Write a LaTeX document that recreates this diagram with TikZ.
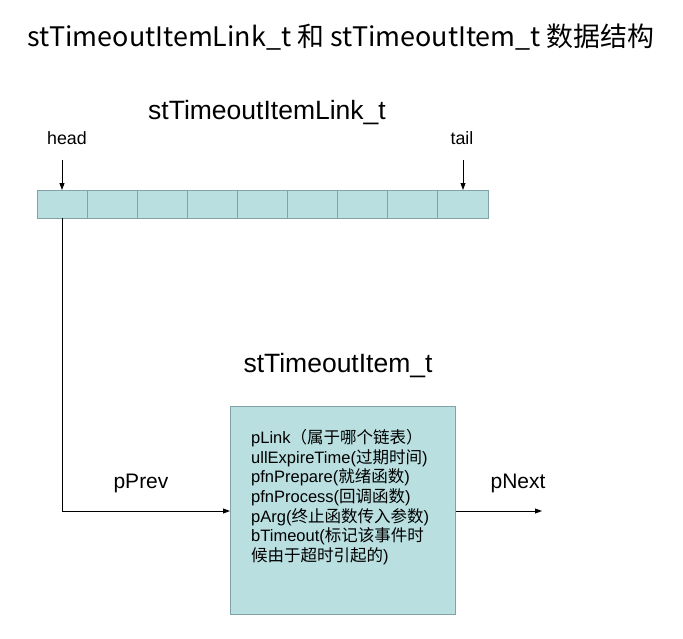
\documentclass[tikz,border=0pt]{standalone}
\usepackage{fontspec}
\setmainfont{Liberation Sans}
\newfontfamily\cjk{Noto Sans CJK SC}
\usetikzlibrary{arrows.meta}
\definecolor{cellfill}{HTML}{B9DFE0}
\definecolor{celledge}{HTML}{7FA3A6}
\tikzset{
  cell/.style={draw=celledge, fill=cellfill, line width=0.8pt, minimum width=50.1pt, minimum height=28pt, inner sep=0pt, outer sep=0pt},
  conn/.style={line width=0.9pt, -{Triangle[length=7pt,width=5pt]}},
  lbl/.style={inner sep=0pt, font=\fontsize{17.8}{20}\selectfont},
  plbl/.style={inner sep=0pt, font=\fontsize{21}{24}\selectfont},
  ttl/.style={inner sep=0pt, font=\fontsize{26.5}{30}\selectfont}
}
\begin{document}
\begin{tikzpicture}[x=1pt,y=-1pt]
\useasboundingbox (0,0) rectangle (683,638);
\node[inner sep=0pt, font=\cjk\fontsize{26.9}{30}\selectfont] (title) at (341,37) {stTimeoutItemLink\_t 和 stTimeoutItem\_t 数据结构};
\node[ttl] (linkttl) at (267,113) {stTimeoutItemLink\_t};
\foreach \i in {0,...,8} {
  \node[cell, anchor=north west] (c\i) at (37+50.1*\i,190) {};
}
\node[lbl] (head) at (67,138) {head};
\node[lbl] (tail) at (462,138) {tail};
\coordinate (headtop) at (62,160);
\coordinate (tailtop) at (463,160);
\draw[conn] (headtop) -- (headtop |- c0.north);
\draw[conn] (tailtop) -- (tailtop |- c8.north);
\node[ttl] (itemttl) at (338,366) {stTimeoutItem\_t};
\node[draw=celledge, fill=cellfill, line width=0.8pt, minimum width=225pt, minimum height=208pt, inner sep=0pt, anchor=north west] (item) at (230,406) {};
\node[anchor=north west, inner sep=0pt, align=left, font=\fontsize{16.5}{19.7}\selectfont] (itemtext) at (251,429) {pLink{\cjk （属于哪个链表）}\\
ullExpireTime({\cjk 过期时间})\\
pfnPrepare({\cjk 就绪函数})\\
pfnProcess({\cjk 回调函数})\\
pArg({\cjk 终止函数传入参数})\\
bTimeout({\cjk 标记该事件时}\\
{\cjk 候由于超时引起的})};
\coordinate (bend) at (62,511);
\draw[conn] (62,218) -- (bend) -- (item.west |- bend);
\node[plbl] (pprev) at (141,483) {pPrev};
\coordinate (nextend) at (542,511);
\draw[conn] (item.east |- nextend) -- (nextend);
\node[plbl] (pnext) at (518,483) {pNext};
\end{tikzpicture}
\end{document}
